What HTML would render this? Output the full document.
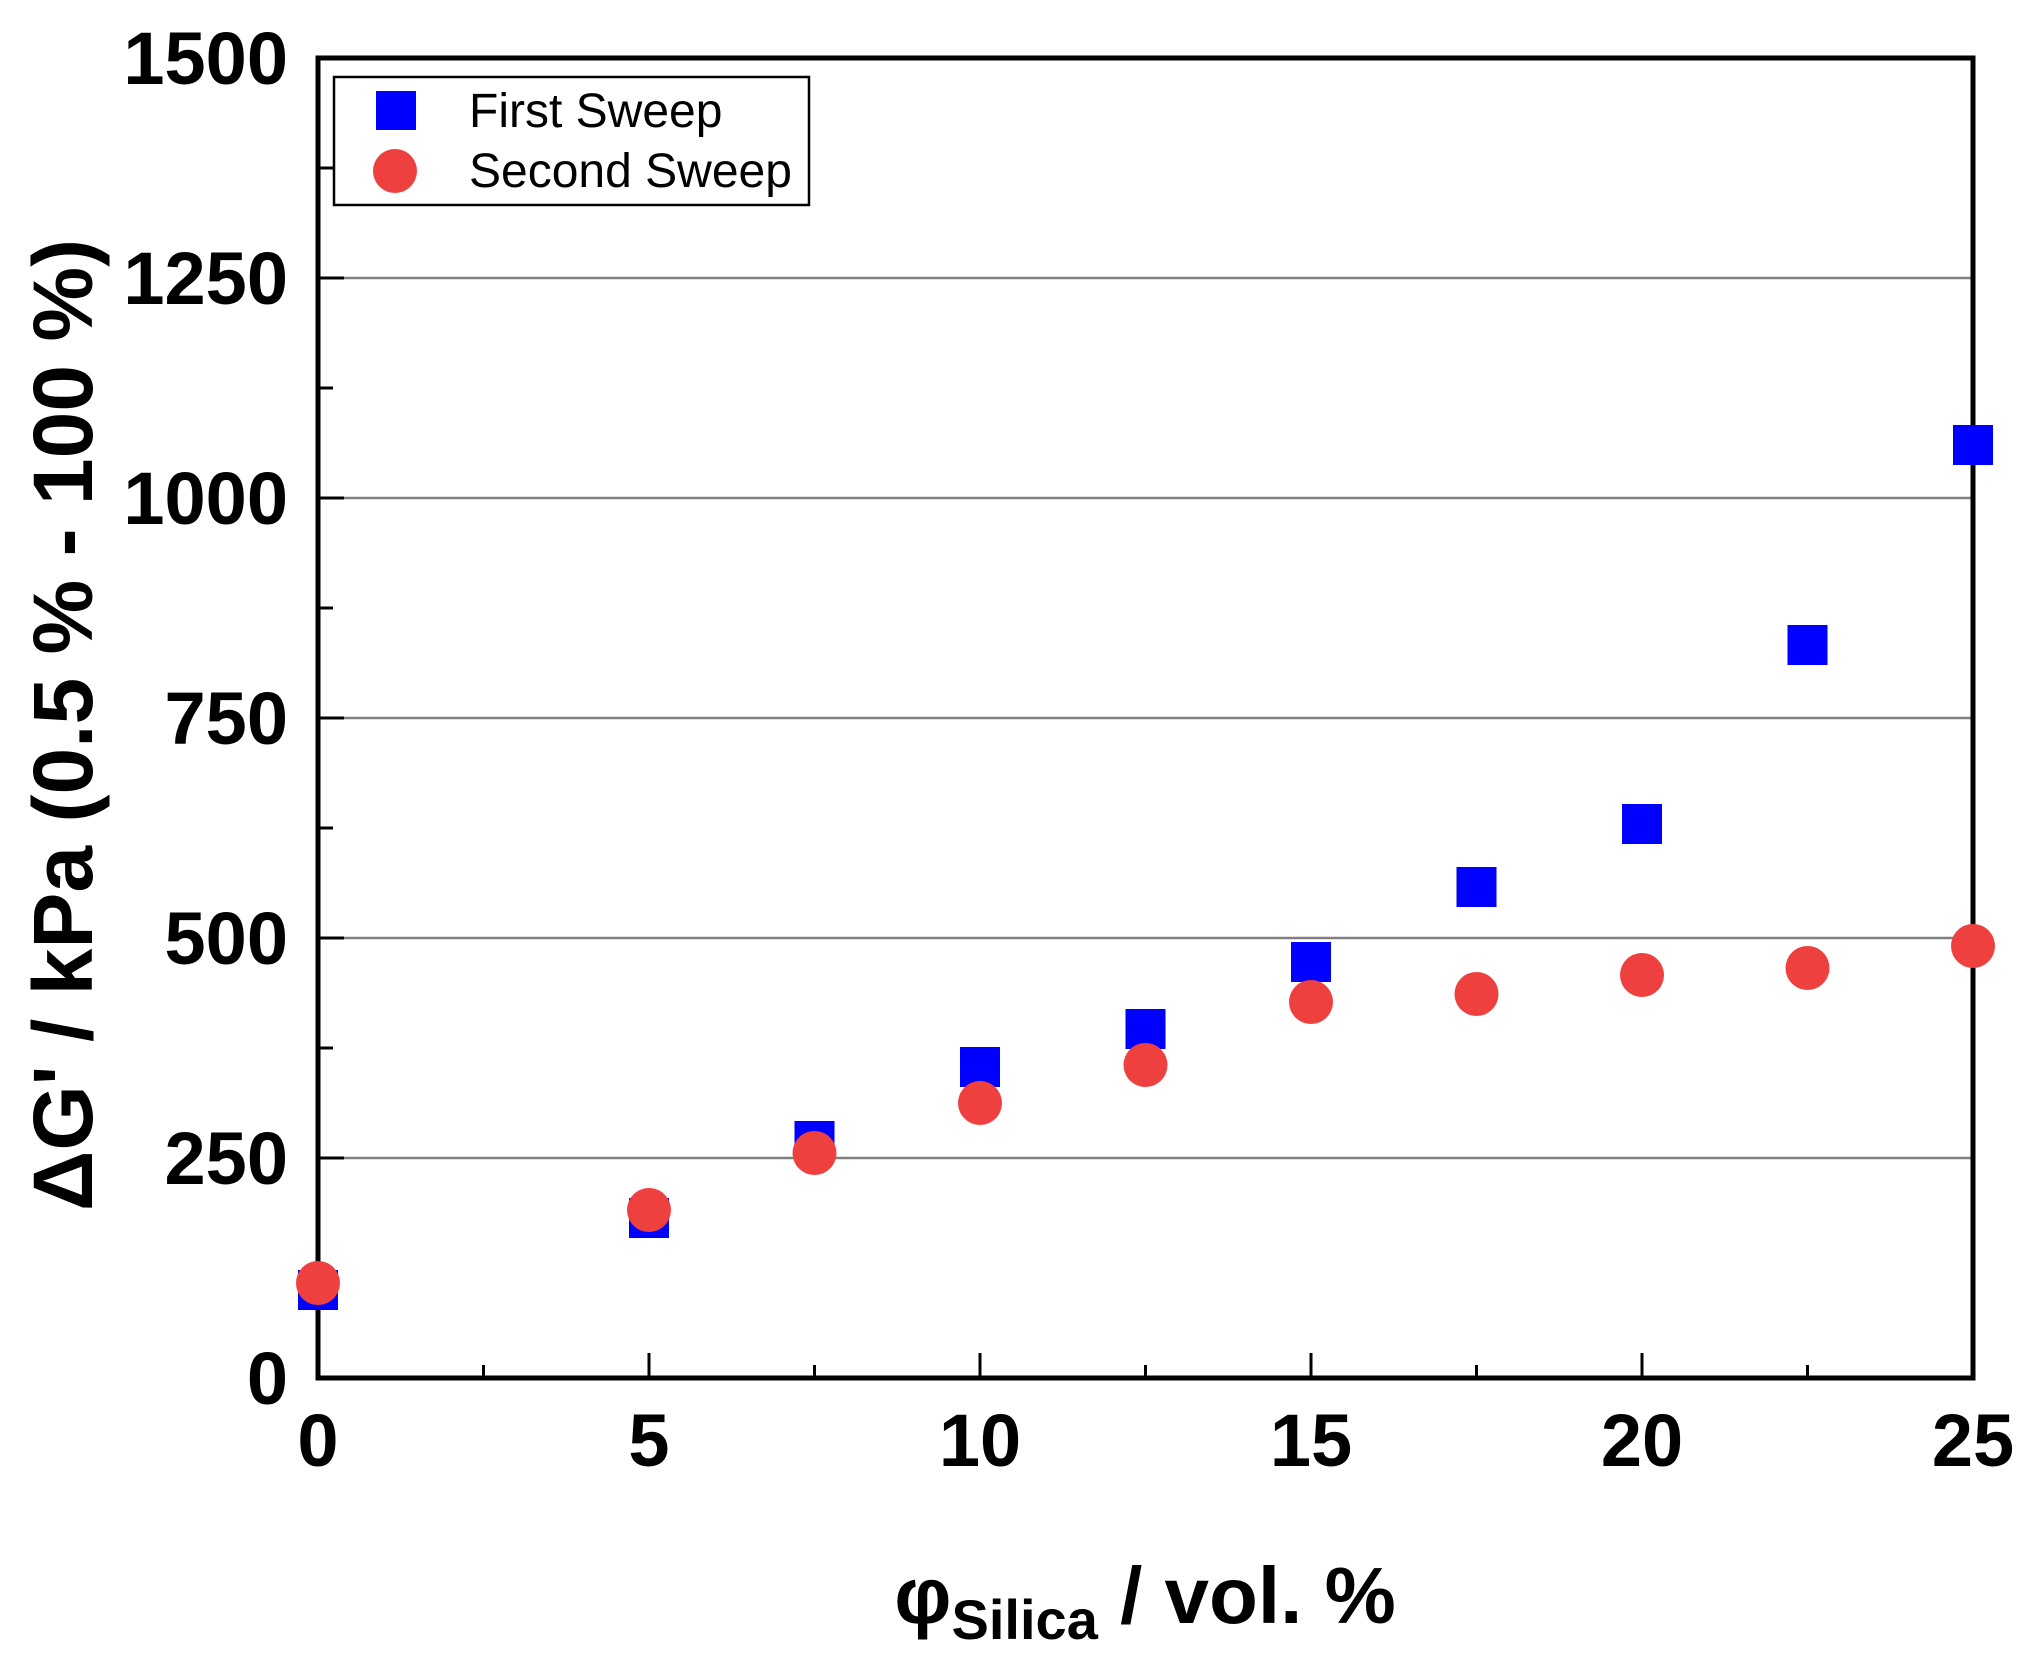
<!DOCTYPE html>
<html><head><meta charset="utf-8"><style>body{margin:0;background:#fff}svg{display:block}</style></head>
<body>
<svg width="2041" height="1677" xmlns="http://www.w3.org/2000/svg" font-family="Liberation Sans, Arial, sans-serif">
<rect width="2041" height="1677" fill="#fff"/>
<g stroke="#808080" stroke-width="2.5">
<line x1="318" x2="1973" y1="278" y2="278"/>
<line x1="318" x2="1973" y1="498" y2="498"/>
<line x1="318" x2="1973" y1="718" y2="718"/>
<line x1="318" x2="1973" y1="938" y2="938"/>
<line x1="318" x2="1973" y1="1158" y2="1158"/>
</g>
<g stroke="#000" stroke-width="3">
<line x1="318" x2="344" y1="278" y2="278"/><line x1="318" x2="344" y1="498" y2="498"/><line x1="318" x2="344" y1="718" y2="718"/><line x1="318" x2="344" y1="938" y2="938"/><line x1="318" x2="344" y1="1158" y2="1158"/>
<line x1="318" x2="333" y1="168" y2="168"/><line x1="318" x2="333" y1="388" y2="388"/><line x1="318" x2="333" y1="608" y2="608"/><line x1="318" x2="333" y1="828" y2="828"/><line x1="318" x2="333" y1="1048" y2="1048"/><line x1="318" x2="333" y1="1268" y2="1268"/>
<line x1="649" x2="649" y1="1378" y2="1353"/><line x1="980" x2="980" y1="1378" y2="1353"/><line x1="1311" x2="1311" y1="1378" y2="1353"/><line x1="1642" x2="1642" y1="1378" y2="1353"/>
<line x1="483.5" x2="483.5" y1="1378" y2="1365"/><line x1="814.5" x2="814.5" y1="1378" y2="1365"/><line x1="1145.5" x2="1145.5" y1="1378" y2="1365"/><line x1="1476.5" x2="1476.5" y1="1378" y2="1365"/><line x1="1807.5" x2="1807.5" y1="1378" y2="1365"/>
</g>
<rect x="318" y="58" width="1655" height="1320" fill="none" stroke="#000" stroke-width="5"/>
<g font-size="74" font-weight="bold" text-anchor="end">
<text x="288" y="84">1500</text><text x="288" y="304">1250</text><text x="288" y="524">1000</text><text x="288" y="744">750</text><text x="288" y="964">500</text><text x="288" y="1184">250</text><text x="288" y="1404">0</text>
</g>
<g font-size="74" font-weight="bold" text-anchor="middle">
<text x="318" y="1466">0</text><text x="649" y="1466">5</text><text x="980" y="1466">10</text><text x="1311" y="1466">15</text><text x="1642" y="1466">20</text><text x="1973" y="1466">25</text>
</g>
<text x="1145" y="1623" font-size="80" font-weight="bold" text-anchor="middle">φ<tspan font-size="56" dy="16">Silica</tspan><tspan dy="-16"> / vol. %</tspan></text>
<text transform="translate(92,725) rotate(-90)" font-size="84" font-weight="bold" text-anchor="middle">ΔG' / kPa (0.5 % - 100 %)</text>
<g fill="#0000ff">
<rect x="298" y="1270" width="40" height="40"/>
<rect x="629" y="1198" width="40" height="40"/>
<rect x="794.5" y="1121" width="40" height="40"/>
<rect x="960" y="1047" width="40" height="40"/>
<rect x="1125.5" y="1009" width="40" height="40"/>
<rect x="1291" y="942" width="40" height="40"/>
<rect x="1456.5" y="867" width="40" height="40"/>
<rect x="1622" y="804" width="40" height="40"/>
<rect x="1787.5" y="625" width="40" height="40"/>
<rect x="1953" y="425" width="40" height="40"/>
</g>
<g fill="#ef4040">
<circle cx="318" cy="1283" r="22"/>
<circle cx="649" cy="1210" r="22"/>
<circle cx="814.5" cy="1153" r="22"/>
<circle cx="980" cy="1103" r="22"/>
<circle cx="1145.5" cy="1065" r="22"/>
<circle cx="1311" cy="1002" r="22"/>
<circle cx="1476.5" cy="994" r="22"/>
<circle cx="1642" cy="975" r="22"/>
<circle cx="1807.5" cy="968" r="22"/>
<circle cx="1973" cy="946" r="22"/>
</g>
<rect x="334" y="77" width="475" height="128" fill="#fff" stroke="#000" stroke-width="2.5"/>
<rect x="376" y="91" width="40" height="39" fill="#0000ff"/>
<circle cx="395" cy="171" r="22" fill="#ef4040"/>
<text x="469" y="127" font-size="48">First Sweep</text>
<text x="469" y="187" font-size="48">Second Sweep</text>
</svg>
</body></html>
